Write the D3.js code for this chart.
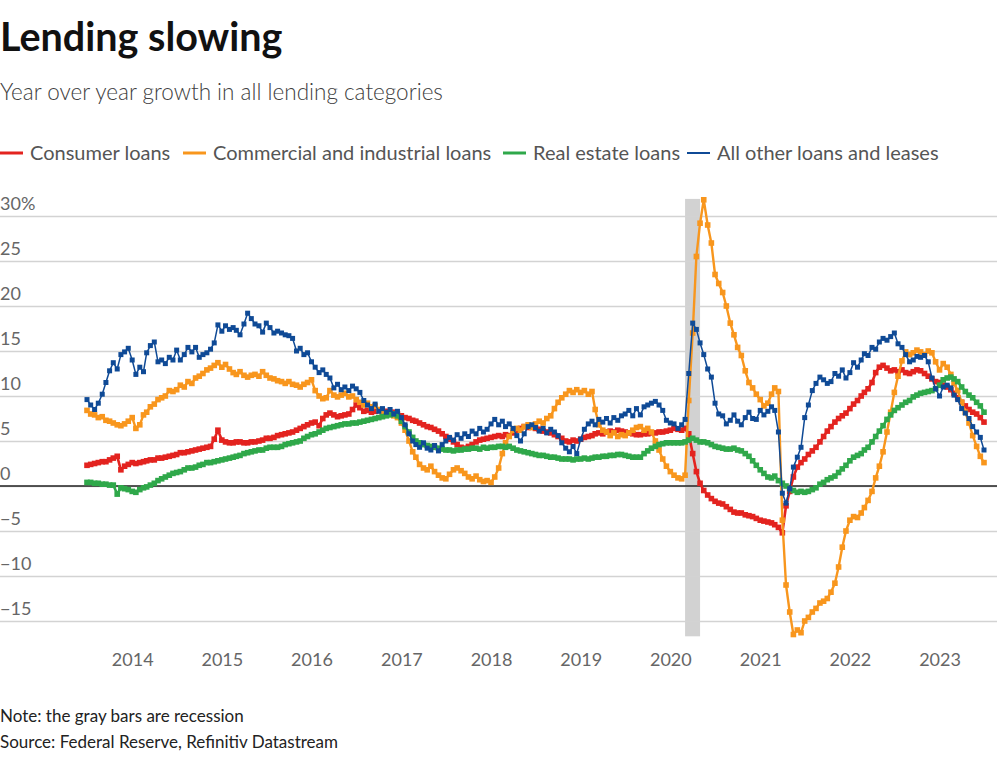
<!DOCTYPE html>
<html><head><meta charset="utf-8">
<script src="https://cdn.jsdelivr.net/npm/d3@7"></script>
<style>
body{margin:0;background:#fff;}
svg{display:block;font-family:Lato,"Noto Sans",sans-serif;}
</style>
</head><body>
<svg id="c" width="1000" height="757"></svg>
<script>
// ---- data (semi-monthly readings, Jul 2013 – Jul 2023) ----
const seriesNames = ["Consumer loans","Commercial and industrial loans","Real estate loans","All other loans and leases"];
const yTicks = [-15,-10,-5,0,5,10,15,20,25,30];
const xTickYears = [2014,2015,2016,2017,2018,2019,2020,2021,2022,2023];
const recession = ["2020-03-01","2020-05-01"];

const consumer = [
2.3,2.4,2.5,2.6,2.7,2.7,2.9,3.1,3.3,1.8,2.2,2.4,
2.6,2.5,2.6,2.7,2.8,2.9,2.9,3.1,3.1,3.2,3.3,3.4,
3.5,3.7,3.7,3.8,3.9,4.0,4.1,4.2,4.3,4.4,5.2,6.2,
5.1,4.9,4.8,4.8,4.9,4.9,4.8,4.8,4.9,4.9,5.0,5.1,
5.3,5.3,5.4,5.6,5.7,5.8,5.9,6.0,6.2,6.4,6.6,6.8,
7.0,7.1,6.7,7.5,7.9,8.1,7.9,7.7,7.8,7.9,8.0,8.5,
9.0,8.7,8.3,8.4,8.2,8.3,8.4,8.2,8.3,8.1,8.2,8.0,
7.8,7.6,7.5,7.3,7.2,7.0,6.8,6.6,6.5,6.3,6.1,5.8,
5.5,5.2,4.9,4.6,4.3,4.2,4.4,4.6,4.9,5.1,5.2,5.3,
5.4,5.5,5.6,5.5,5.7,5.6,5.9,6.2,6.4,6.6,6.5,6.6,
6.4,6.3,6.1,6.0,5.9,5.7,5.5,5.3,5.0,4.9,5.1,5.0,
5.2,5.4,5.5,5.6,5.8,5.9,5.8,6.0,6.1,6.0,6.2,6.1,
6.0,5.9,5.8,5.7,5.7,5.8,5.8,5.9,5.9,6.0,6.0,6.1,
6.2,6.4,6.3,6.2,6.4,5.8,3.6,1.6,0.3,-0.5,-1.0,-1.4,
-1.7,-1.9,-2.0,-2.3,-2.6,-2.9,-3.0,-3.0,-3.2,-3.3,-3.4,-3.6,
-3.8,-3.9,-4.0,-4.1,-4.3,-4.6,-5.2,-2.2,-0.6,1.0,2.1,2.6,
3.0,3.5,3.9,4.3,4.9,5.5,6.1,6.6,7.1,7.5,7.8,8.1,
8.6,9.1,9.5,10.0,10.4,10.8,11.5,12.6,13.2,13.4,13.1,12.8,
12.9,12.7,12.9,12.6,12.5,12.7,12.9,12.8,12.5,12.2,11.9,11.6,
11.5,11.2,11.0,10.7,10.3,9.8,9.3,8.9,8.5,8.2,8.0,7.6,7.1];

const commercial = [
8.4,8.0,7.9,7.6,7.7,7.3,7.2,7.0,6.8,6.7,6.9,7.2,
7.6,6.4,6.8,7.9,8.2,8.8,9.1,9.6,9.8,10.0,10.6,10.5,
10.7,11.2,11.0,11.6,11.4,12.0,12.2,12.5,12.9,13.1,13.4,13.7,
13.2,13.5,13.0,12.6,12.4,12.7,12.3,12.1,12.3,12.4,12.2,12.7,
12.3,12.0,11.9,11.7,11.6,11.4,11.6,11.3,11.2,11.0,11.3,11.5,
11.8,10.6,10.0,9.7,9.8,10.6,10.1,9.9,10.1,10.3,9.9,10.0,
9.6,9.3,9.0,9.2,8.8,8.9,8.5,8.2,8.0,8.1,7.8,7.6,
7.0,6.2,5.0,3.8,3.2,2.4,2.0,1.8,2.2,1.6,1.2,0.9,
0.8,1.3,1.8,2.0,1.7,1.4,1.0,0.8,1.1,0.7,0.5,0.6,
0.4,1.0,2.0,3.6,4.8,5.5,6.2,6.4,6.2,6.6,6.8,6.5,
6.9,7.2,7.0,7.5,7.8,8.6,9.3,9.8,10.2,10.6,10.4,10.7,
10.4,10.6,10.2,10.5,8.5,6.8,6.2,6.0,5.6,5.9,5.5,5.7,
5.6,5.9,6.2,6.5,6.6,6.2,6.4,6.0,5.0,4.0,3.0,2.2,
1.6,1.2,0.9,0.8,1.2,9.5,17.0,25.5,29.2,31.8,29.0,27.0,
23.5,22.5,21.5,20.0,18.1,16.8,15.4,14.5,12.8,11.5,10.9,10.2,
9.6,8.9,9.2,10.2,10.9,10.5,-3.8,-11.0,-14.0,-16.5,-16.0,-16.3,
-15.0,-14.6,-14.0,-13.6,-13.0,-12.8,-12.5,-11.8,-10.8,-9.0,-6.8,-5.0,
-3.8,-3.4,-3.5,-3.0,-2.4,-1.6,-0.6,0.9,2.2,3.8,6.0,8.2,
10.4,12.2,13.9,14.9,14.6,14.8,15.1,14.9,14.6,15.0,14.8,13.8,
12.9,13.6,13.2,12.4,11.4,10.6,9.3,8.2,7.0,5.6,4.4,3.3,2.6];

const realEstate = [
0.4,0.4,0.3,0.3,0.2,0.2,0.1,0.1,-0.9,-0.2,-0.3,-0.4,
-0.6,-0.7,-0.4,-0.2,-0.1,0.1,0.3,0.6,0.8,1.0,1.2,1.4,
1.5,1.6,1.8,2.0,2.0,2.1,2.3,2.4,2.6,2.6,2.7,2.8,
2.9,3.0,3.1,3.2,3.3,3.4,3.6,3.7,3.8,3.9,4.0,4.0,
4.2,4.3,4.3,4.3,4.4,4.6,4.7,4.8,4.9,5.0,5.3,5.5,
5.7,5.8,6.0,6.2,6.4,6.5,6.6,6.7,6.8,6.9,6.9,7.0,
7.0,7.1,7.2,7.3,7.4,7.5,7.6,7.7,7.8,7.9,8.0,7.8,
7.2,6.6,6.0,5.4,5.0,4.8,4.6,4.5,4.4,4.3,4.2,4.1,
4.0,4.0,3.9,4.0,4.0,4.1,4.1,4.2,4.2,4.1,4.3,4.2,
4.3,4.3,4.4,4.4,4.3,4.4,4.2,4.0,3.9,3.8,3.7,3.6,
3.5,3.4,3.4,3.3,3.2,3.2,3.1,3.0,3.0,3.0,2.9,3.0,
3.0,3.1,3.0,3.1,3.2,3.2,3.3,3.3,3.4,3.4,3.5,3.5,
3.4,3.3,3.2,3.2,3.2,3.6,3.9,4.2,4.4,4.6,4.7,4.8,
4.8,4.8,4.8,4.8,4.9,5.1,5.3,5.1,4.9,4.9,4.8,4.6,
4.4,4.3,4.2,4.1,4.1,4.2,4.0,3.9,3.6,3.3,2.8,2.3,
1.8,1.4,1.0,0.9,1.1,0.6,0.3,0.0,-0.3,-0.5,-0.7,-0.6,
-0.7,-0.6,-0.4,-0.2,0.2,0.4,0.7,0.9,1.1,1.5,1.9,2.3,
2.8,3.2,3.4,3.6,4.0,4.3,4.9,5.5,6.1,6.7,7.4,7.9,
8.4,8.7,9.0,9.3,9.5,9.9,10.1,10.3,10.4,10.5,10.6,10.8,
11.2,11.8,12.0,12.1,11.9,11.6,11.0,10.5,10.1,9.8,9.3,8.9,8.2];

const allOther = [
9.6,9.0,8.5,9.2,10.2,11.5,12.8,13.7,13.0,14.6,14.9,15.3,
14.0,12.4,13.2,12.7,14.8,15.6,16.0,13.8,14.0,13.6,14.3,14.0,
15.1,14.0,14.6,15.4,14.9,15.4,14.3,14.6,14.8,15.2,15.9,17.9,
17.2,17.8,17.4,17.6,17.3,16.8,18.0,19.2,18.6,18.0,17.8,17.1,
18.1,17.6,17.0,17.2,17.0,16.8,16.7,16.4,15.0,15.3,14.6,14.8,
13.8,13.2,12.6,12.9,12.4,12.0,10.9,11.3,10.7,11.0,10.6,11.1,
10.8,10.4,9.5,9.0,8.6,9.1,8.3,8.6,8.2,8.5,8.0,8.3,
7.6,6.8,5.8,5.0,4.6,4.3,4.8,4.2,4.0,4.5,3.9,4.6,
5.0,5.4,5.1,5.7,5.3,5.8,5.5,6.1,5.8,6.4,6.0,6.3,
6.9,7.4,6.8,7.2,6.6,6.9,6.4,5.6,5.0,5.8,6.6,6.8,
6.5,6.1,6.4,5.9,6.3,6.0,5.6,4.8,4.2,3.8,4.4,3.6,
5.2,6.3,6.9,7.2,6.8,7.4,7.1,7.5,7.0,7.6,7.3,7.8,
8.0,8.4,7.8,8.6,7.9,8.8,9.0,9.2,9.4,9.0,8.4,7.3,
7.0,6.9,6.4,6.8,7.4,12.5,18.1,17.4,15.9,14.6,13.0,12.1,
9.2,8.0,7.8,6.9,7.3,7.9,7.2,6.8,7.6,8.2,7.5,7.4,
8.4,7.9,8.3,8.8,8.4,6.0,-0.8,-1.9,-0.3,2.1,3.2,4.3,
7.6,9.0,10.6,11.4,12.1,11.8,11.4,11.6,12.5,12.2,12.9,12.0,
12.6,13.7,13.2,14.0,14.7,14.5,15.4,15.2,16.0,16.4,16.2,16.6,
17.0,15.8,15.4,14.6,13.8,14.0,14.4,14.3,14.5,13.8,12.0,10.8,
10.0,11.0,11.2,10.9,10.1,9.6,8.6,8.1,7.5,6.6,6.0,5.4,4.0];

// semi-monthly dates (1st and 16th of each month) starting 1 Jul 2013
const dates = d3.range(consumer.length).map(i => new Date(2013, 6 + Math.floor(i/2), i % 2 ? 16 : 1));

const series = [
  {name: seriesNames[0], values: consumer,   color: "#e3231f", lw: 2.6, ms: 5.6},
  {name: seriesNames[1], values: commercial, color: "#f8961d", lw: 2.4, ms: 5.6},
  {name: seriesNames[2], values: realEstate, color: "#2fa84a", lw: 2.6, ms: 5.6},
  {name: seriesNames[3], values: allOther,   color: "#0f4a96", lw: 1.5, ms: 5}
];

// ---- layout ----
const svg = d3.select("#c");
const x = d3.scaleTime().domain([new Date(2013,6,1), new Date(2023,6,1)]).range([87, 984]);
const y = d3.scaleLinear().domain([-15, 30]).range([621, 216]);
const gridRight = 997;

// title & subtitle
svg.append("text").attr("x",0).attr("y",51).attr("font-size",39.5).attr("font-weight",700)
  .attr("fill","#111").text("Lending slowing");
svg.append("text").attr("x",0).attr("y",100).attr("font-size",22.5).attr("font-weight",300)
  .attr("fill","#404040").text("Year over year growth in all lending categories");

// legend
const legX = [0, 183, 503, 687];
series.forEach((s,i) => {
  const g = svg.append("g").attr("transform",`translate(${legX[i]},153)`);
  g.append("line").attr("x1",0).attr("x2",23).attr("y1",0).attr("y2",0)
    .attr("stroke",s.color).attr("stroke-width", i===3 ? 2 : 3);
  g.append("text").attr("x",30).attr("y",7).attr("font-size",20).attr("fill","#555").text(s.name);
});

// recession bar
svg.append("rect")
  .attr("x", x(new Date(recession[0])))
  .attr("width", x(new Date(recession[1])) - x(new Date(recession[0])))
  .attr("y", y(31.9)).attr("height", y(-16.7) - y(31.9))
  .attr("fill","#d2d2d2");

// y gridlines + labels
const yAxis = svg.append("g").call(
  d3.axisRight(y).tickValues(yTicks).tickSize(gridRight)
    .tickFormat(v => v === 30 ? "30%" : (v < 0 ? "\u2212" + Math.abs(v) : String(v)))
);
yAxis.select(".domain").remove();
yAxis.selectAll(".tick line").attr("stroke","#d3d3d3").attr("stroke-width",1.3);
yAxis.selectAll(".tick text").attr("x",0).attr("dy",null).attr("y",-7).attr("text-anchor","start")
  .attr("font-size",18).attr("font-family","Lato,sans-serif").attr("fill","#666");

// zero line
svg.append("line").attr("x1",0).attr("x2",gridRight).attr("y1",y(0)).attr("y2",y(0))
  .attr("stroke","#222").attr("stroke-width",1.4);

// x axis labels
const xAxis = svg.append("g").attr("transform","translate(0,648)").call(
  d3.axisBottom(x).tickValues(xTickYears.map(yr => new Date(yr,0,1))).tickSize(0).tickFormat(d3.timeFormat("%Y"))
);
xAxis.select(".domain").remove();
xAxis.selectAll(".tick text").attr("font-size",18).attr("font-family","Lato,sans-serif").attr("fill","#666").attr("dy","0.85em");

// series
const line = d3.line().x((d,i) => x(dates[i])).y(d => y(d));
series.forEach(s => {
  const g = svg.append("g");
  g.append("path").datum(s.values).attr("d", line).attr("fill","none")
    .attr("stroke", s.color).attr("stroke-width", s.lw).attr("stroke-linejoin","round");
  g.selectAll("rect").data(s.values).join("rect")
    .attr("x",(d,i) => x(dates[i]) - s.ms/2).attr("y", d => y(d) - s.ms/2)
    .attr("width", s.ms).attr("height", s.ms).attr("fill", s.color);
});

// footer
svg.append("text").attr("x",0).attr("y",722).attr("font-size",17).attr("fill","#222")
  .text("Note: the gray bars are recession");
svg.append("text").attr("x",0).attr("y",748).attr("font-size",17).attr("fill","#222")
  .text("Source: Federal Reserve, Refinitiv Datastream");
</script>
</body></html>
